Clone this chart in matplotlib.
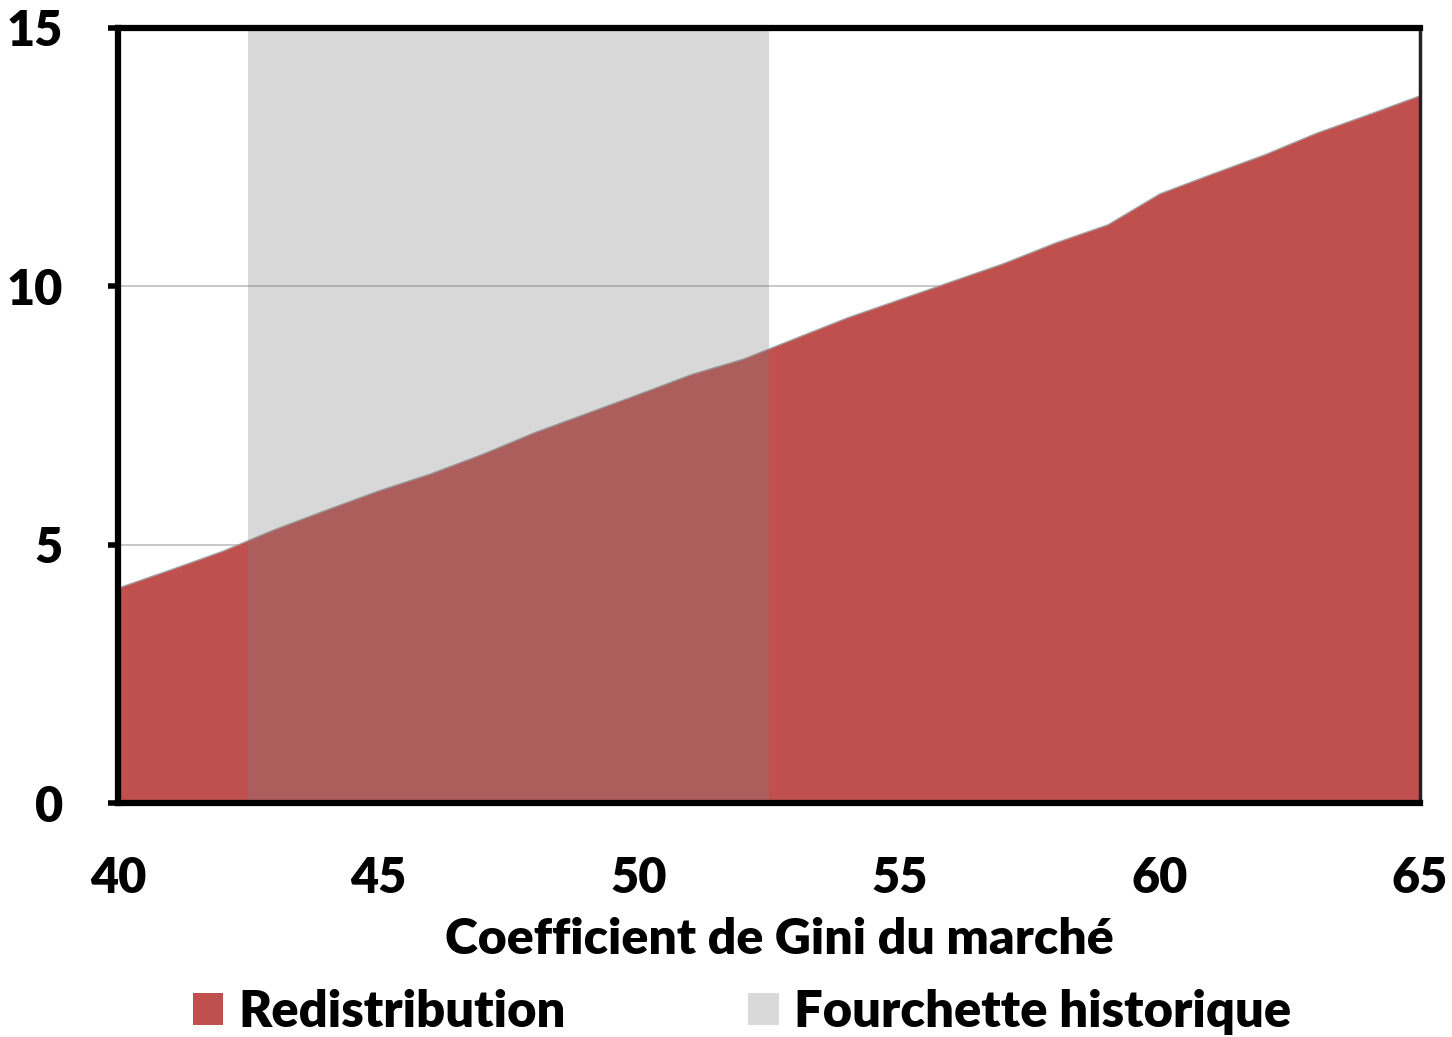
import matplotlib.pyplot as plt
from matplotlib.patches import Patch

# Data
gini = [40, 41, 42, 43, 44, 45, 46, 47, 48, 49, 50, 51, 52,
        53, 54, 55, 56, 57, 58, 59, 60, 61, 62, 63, 64, 65]
redistribution = [4.17, 4.52, 4.88, 5.30, 5.68, 6.05, 6.38, 6.76, 7.18, 7.55,
                  7.92, 8.30, 8.60, 9.00, 9.40, 9.75, 10.10, 10.45, 10.85, 11.20,
                  11.80, 12.18, 12.55, 12.97, 13.33, 13.70]
hist_range = (42.5, 52.5)
x_ticks = [40, 45, 50, 55, 60, 65]
y_ticks = [0, 5, 10, 15]

red = "#C0504D"
plt.rcParams["font.family"] = ["Lato", "DejaVu Sans"]
plt.rcParams["font.weight"] = "heavy"

fig = plt.figure(figsize=(14.52, 10.37), dpi=100)
ax = fig.add_axes([118 / 1452, 1 - 803 / 1037, (1420 - 118) / 1452, (803 - 28) / 1037])

# Gridlines under everything
ax.set_axisbelow(True)
ax.yaxis.grid(True, color="#BFBFBF", linewidth=1.2)

ax.fill_between(gini, redistribution, 0, color=red, edgecolor="#A0A0A0",
                linewidth=1.0, zorder=2)
# historical range: translucent grey drawn over the area
ax.axvspan(hist_range[0], hist_range[1], color="#808080", alpha=0.3,
           linewidth=0, zorder=3)

ax.set_xlim(40, 65)
ax.set_ylim(0, 15)
ax.set_xticks(x_ticks)
ax.set_yticks(y_ticks)
ax.tick_params(axis="x", length=0, pad=38, labelsize=35)
ax.tick_params(axis="y", length=7.5, width=4, pad=32, labelsize=35, direction="out")

for side in ["left", "bottom", "top"]:
    ax.spines[side].set_linewidth(4.5)
    ax.spines[side].set_color("black")
ax.spines["right"].set_linewidth(2.5)
ax.spines["right"].set_color("#222222")
for s in ax.spines.values():
    s.set_zorder(5)

ax.set_xlabel("Coefficient de Gini du marché", fontsize=36, fontweight="heavy",
              labelpad=12)
ax.xaxis.label.set_x(0.508)

handles = [Patch(facecolor=red, edgecolor="none", label="Redistribution"),
           Patch(facecolor="#D9D9D9", edgecolor="none", label="Fourchette historique")]
fig.legend(handles=handles, loc="center", bbox_to_anchor=(0.511, 1 - 1012 / 1037),
           ncol=2, frameon=False, fontsize=36.5, handlelength=0.6, handleheight=0.6,
           handletextpad=0.3, columnspacing=3.6, borderaxespad=0)

fig.savefig("out.png", dpi=100)
